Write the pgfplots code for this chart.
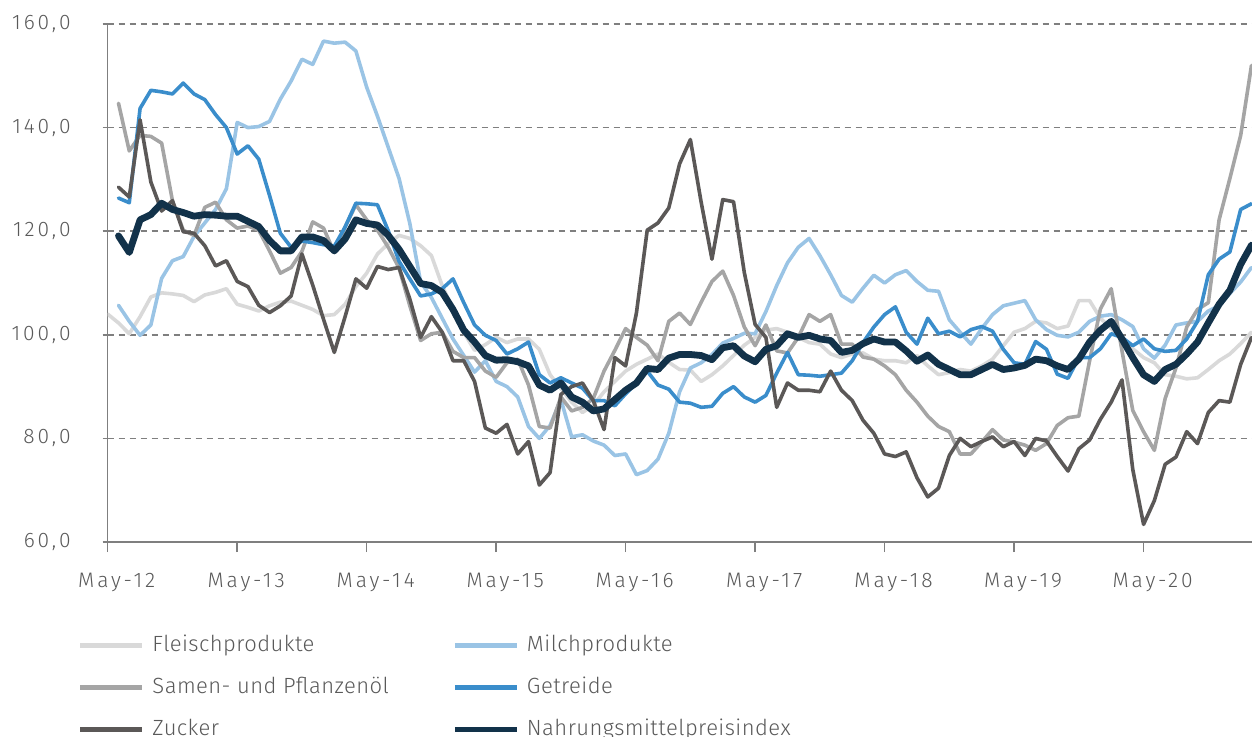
\documentclass[border=0pt]{standalone}
\usepackage{fontspec}
\setmainfont{Fira Sans Light}
\newfontfamily\tickfont{Fira Sans Light}[LetterSpace=14]
\newfontfamily\legfont{Fira Sans Light}[LetterSpace=2]
\usepackage{pgfplots}
\usepackage{pgfplotstable}
\pgfplotsset{compat=1.18}
\definecolor{cFl}{HTML}{D9D9D9}
\definecolor{cMi}{HTML}{9AC4E5}
\definecolor{cSa}{HTML}{A5A5A5}
\definecolor{cGe}{HTML}{3A8DCB}
\definecolor{cZu}{HTML}{5B5857}
\definecolor{cIx}{HTML}{12324A}
\definecolor{cTx}{HTML}{595959}
\definecolor{cAx}{HTML}{7F7F7F}

\pgfplotstableread{
m fl mi sa ge zu ix
0 104 nan nan nan nan nan
1 102.3 105.7 144.7 126.4 128.5 119.1
2 100.2 102.6 135.5 125.5 126.6 115.9
3 103.5 99.9 138.5 143.7 141.5 122.2
4 107.3 101.9 138.3 147.2 129.5 123.2
5 108.1 110.9 137 146.9 123.9 125.4
6 107.9 114.3 125.9 146.5 125.9 124.2
7 107.6 115.1 120.2 148.6 119.9 123.6
8 106.4 119 119.2 146.5 119.6 122.9
9 107.7 121.6 124.6 145.4 117.2 123.2
10 108.2 124.2 125.6 142.5 113.3 123.1
11 108.9 128.2 122.2 140.0 114.3 122.9
12 105.9 141 120.6 134.9 110.3 122.9
13 105.3 140 121 136.5 109.3 121.9
14 104.6 140.2 120.2 133.9 105.7 120.9
15 105.6 141.2 116.2 126.9 104.3 118.2
16 106.3 145.5 111.9 119.6 105.6 116.2
17 106.5 149 113 116.9 107.5 116.2
18 105.7 153.2 116.1 118.1 115.6 118.9
19 104.9 152.2 121.8 117.8 109.6 118.9
20 103.7 156.7 120.6 117.4 103 118.2
21 103.9 156.3 115.9 117.1 96.6 116.2
22 105.9 156.5 120.8 120.8 103.5 118.5
23 109.3 154.8 125.1 125.4 110.8 122.2
24 111.9 147.8 122.2 125.3 109 121.5
25 115.6 142.2 120.2 125.1 113.2 121.2
26 117.6 136.2 116.9 120.1 112.6 119.2
27 119.2 130.2 112.9 114.2 113 116.5
28 118.6 121.5 105.6 110.8 106.9 113.2
29 117.2 110.2 98.9 107.5 99.5 109.9
30 115.3 107.2 100.2 107.9 103.5 109.5
31 109.5 103.2 100.5 108.9 100.5 108.2
32 104.9 99.2 96.8 110.8 95 104.9
33 100.5 96.0 95.6 106.2 95 100.9
34 97 92.8 95.6 101.9 91 98.6
35 98.1 95 93 99.9 82 96
36 99.5 91 91.8 98.9 81 95.1
37 98.5 90 94.6 96.3 82.7 95.2
38 99.2 88 95.3 97.3 77 94.8
39 99.2 82.3 90.3 98.6 79.4 94
40 97.2 80 82.3 92.3 71 90.3
41 92.3 82.5 82 90.7 73.4 89.3
42 89.6 87.5 88 91.7 88.5 90.7
43 87 80.3 85.3 90.7 90 88
44 85 80.7 86 89.7 90.7 87
45 86.4 79.5 87.7 87.3 87.3 85.3
46 89 78.7 93 87.3 81.7 85.7
47 91 76.7 97 86.3 95.6 87.5
48 93 77 101.2 88.6 94 89.3
49 94.3 73 99.5 90.7 104.2 90.7
50 95.3 73.8 98 93 120.2 93.5
51 96.3 76 95 90.3 121.6 93.3
52 94.7 81 102.6 89.5 124.5 95.5
53 93.3 89 104.2 87 133 96.2
54 93.2 93.6 102 86.8 137.7 96.2
55 91 94.6 106.3 86 125.6 96
56 92.3 96.2 110.3 86.2 114.6 95.2
57 94 98.4 112.3 88.7 126.1 97.5
58 96 99.3 107.6 90 125.7 97.9
59 98 100.3 101.5 88 112 95.9
60 99.5 100.2 97.9 87 102 94.8
61 100.9 104.5 101.9 88.3 99.5 97.2
62 101.2 109.5 96.9 92.6 86 97.9
63 100.5 113.9 96.5 96.6 90.7 100.2
64 99.5 116.9 99.5 92.3 89.3 99.5
65 98.5 118.6 103.9 92.2 89.3 99.9
66 98.2 115.3 102.6 92 89 99.2
67 96.3 111.6 103.9 92.3 93 98.9
68 95.6 107.6 98.2 92.6 89.3 96.6
69 96.3 106.3 98.2 95 87.3 97
70 96.5 109 95.7 98.5 83.5 98.3
71 95.3 111.5 95.3 101.5 81 99.2
72 95 110 94 103.9 77 98.6
73 95 111.6 92.3 105.4 76.5 98.6
74 94.6 112.4 89.3 100.5 77.4 96.9
75 96 110.3 87 98.2 72.4 94.9
76 94 108.6 84.3 103.2 68.7 96.1
77 92.3 108.4 82.3 100.2 70.4 94.3
78 92.7 102.9 81.3 100.7 76.7 93.3
79 93.3 100.5 77 99.6 80 92.3
80 93 98.2 77 101 78.4 92.3
81 94 101.2 79.3 101.6 79.4 93.3
82 95.3 103.9 81.7 100.7 80.3 94.3
83 97.9 105.6 79.7 97.2 78.4 93.3
84 100.5 106.1 79.3 94.6 79.4 93.6
85 101.2 106.6 78.7 94.3 76.7 94.1
86 102.6 102.9 77.7 98.7 80 95.3
87 102.3 101 79 97.2 79.5 95
88 101.2 99.9 82.5 92.4 76.5 94
89 101.7 99.6 84 91.6 73.7 93.3
90 106.6 100.5 84.3 95.6 78 95.3
91 106.6 102.6 95 95.6 79.7 98.6
92 103.2 103.6 105 97.3 83.7 100.9
93 101.2 103.9 108.9 100.2 87 102.6
94 99.2 102.9 96.9 99.5 91.3 99.2
95 97.3 101.6 85.4 97.9 74 95.6
96 95.6 97.3 81.3 99.2 63.4 92.3
97 94.6 95.5 77.7 97.3 68 91
98 92.3 98 87.7 96.8 75 93.3
99 92 101.9 93.6 97 76.4 94.3
100 91.5 102.3 101.5 99.2 81.3 96.3
101 91.7 102.6 104.9 102.6 79 98.6
102 93.3 104.6 106.2 111.6 85 102.3
103 95 105.6 122.2 114.6 87.3 105.9
104 96.3 108 130.2 116 87 108.6
105 98.3 110.2 138.5 124.2 94.3 113.6
106 100.5 113 152 125.3 99.5 117.3
}\data

\begin{document}
\begin{tikzpicture}[x=1pt,y=1pt]
\begin{axis}[
  at={(0,0)}, anchor=south west,
  scale only axis, width=572.15pt, height=259pt,
  xmin=0, xmax=106.05, ymin=60, ymax=160,
  axis x line*=bottom, axis y line*=left,
  axis line style={cAx, line width=0.8pt},
  xtick={0,12,...,96},
  xticklabels={May-12,May-13,May-14,May-15,May-16,May-17,May-18,May-19,May-20},
  ytick={60,80,...,160},
  ymajorgrids,
  grid style={cAx, dash pattern=on 3pt off 2.5pt, line width=0.8pt},
  tick style={cAx, line width=0.8pt},
  major tick length=5pt,
  xtick align=outside,
  ytick align=center,
  every tick label/.append style={font=\tickfont\fontsize{10.5}{12.6}\selectfont, text=cTx},
  xticklabel style={anchor=base, yshift=-17.5pt, xshift=4.5pt},
  yticklabel style={anchor=east, inner sep=0pt, xshift=-15.85pt,
    /pgf/number format/.cd, fixed, fixed zerofill, precision=1, use comma, assume math mode=true},
  legend columns=2,
  legend style={at={(axis description cs:-0.02595,-0.1757)}, anchor=north west,
    draw=none, fill=none, inner sep=0pt, outer sep=0pt,
    font=\legfont\fontsize{11}{13.2}\selectfont, text=cTx, row sep=9pt,
    nodes={inner sep=0pt, text height=9pt, text depth=3pt}},
  legend cell align=left,
  legend image code/.code={\draw[#1, line width=2.5pt, line cap=butt] (0pt,0pt) -- (31pt,0pt); \path[draw=none] (0pt,0pt) -- (36pt,0pt);},
  every axis plot/.append style={line join=round, line cap=round},
]
\addplot[cFl, line width=1.8pt] table[x=m, y=fl] {\data};
\addlegendentry{\makebox[150pt][l]{Fleischprodukte}}
\addplot[cMi, line width=1.8pt] table[x=m, y=mi] {\data};
\addlegendentry{Milchprodukte}
\addplot[cSa, line width=1.8pt] table[x=m, y=sa] {\data};
\addlegendentry{\makebox[150pt][l]{Samen- und Pflanzenöl}}
\addplot[cGe, line width=1.8pt] table[x=m, y=ge] {\data};
\addlegendentry{Getreide}
\addplot[cZu, line width=1.8pt] table[x=m, y=zu] {\data};
\addlegendentry{\makebox[150pt][l]{Zucker}}
\addplot[cIx, line width=3.4pt] table[x=m, y=ix] {\data};
\addlegendentry{Nahrungsmittelpreisindex}
\end{axis}
\pgfresetboundingbox
\path[use as bounding box] (-53.85,-97) rectangle (572.15,271);
\end{tikzpicture}
\end{document}
